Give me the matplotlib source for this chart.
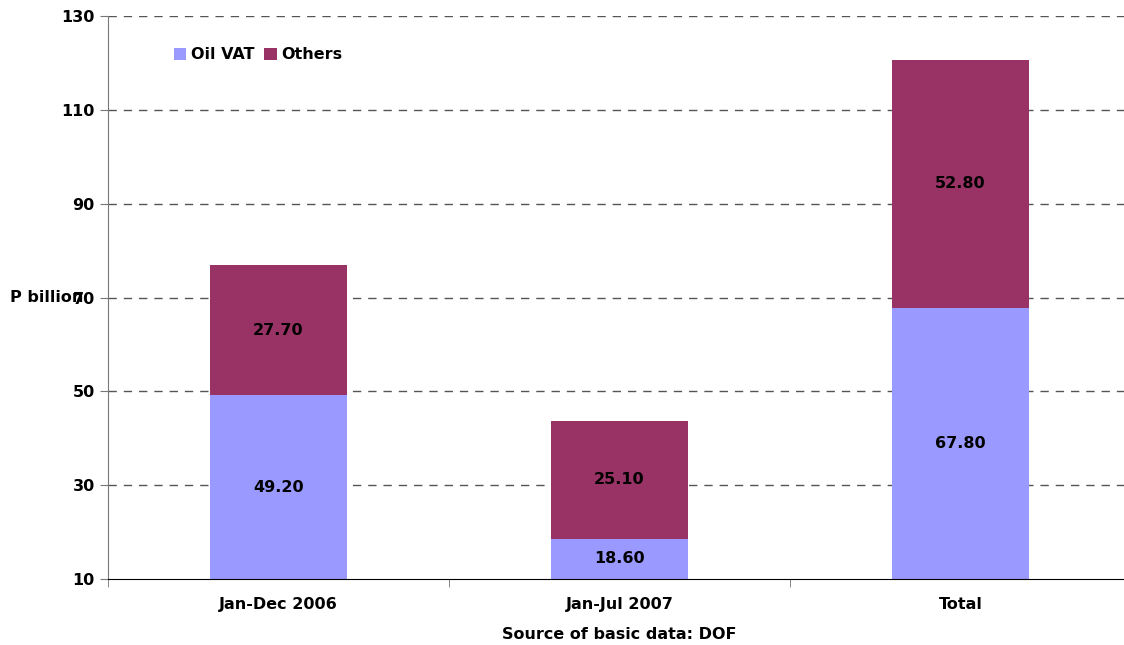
import matplotlib.pyplot as plt
import numpy as np

categories = ["Jan-Dec 2006", "Jan-Jul 2007", "Total"]
oil_vat = [49.20, 18.60, 67.80]
others = [27.70, 25.10, 52.80]
yticks = [10, 30, 50, 70, 90, 110, 130]

fs = 11.5
fig = plt.figure(figsize=(11.24, 6.45), dpi=100)
ax = fig.add_axes([108 / 1124, 66 / 645, 1023 / 1124, 563 / 645])

x = np.arange(len(categories))
ax.bar(x, oil_vat, width=0.4, color="#9999FF", label="Oil VAT", zorder=2)
ax.bar(x, others, width=0.4, bottom=oil_vat, color="#993366", label="Others", zorder=2)

# labels centred on the visible part of each segment (axis starts at 10)
for i in range(len(categories)):
    ax.text(x[i], (10 + oil_vat[i]) / 2, f"{oil_vat[i]:.2f}",
            ha="center", va="center", fontsize=fs, fontweight="bold")
    ax.text(x[i], oil_vat[i] + others[i] / 2, f"{others[i]:.2f}",
            ha="center", va="center", fontsize=fs, fontweight="bold")

ax.set_xlim(-0.5, 2.5)
ax.set_ylim(10, 130)
ax.set_yticks(yticks)
ax.set_yticklabels([str(t) for t in yticks], fontsize=fs, fontweight="bold")
ax.set_xticks(x)
ax.set_xticklabels(categories, fontsize=fs, fontweight="bold")
ax.tick_params(axis="x", length=0, pad=13)
ax.set_xticks([-0.5, 0.5, 1.5, 2.5], minor=True)
ax.tick_params(axis="x", which="minor", length=6, color="#777777")
ax.tick_params(axis="y", length=6, color="#777777")
for t in yticks[1:]:
    ax.axhline(t, color="#555555", lw=1, ls=(0, (6, 5)), zorder=1)

ax.spines["top"].set_visible(False)
ax.spines["right"].set_visible(False)
ax.spines["left"].set_color("#777777")
ax.spines["bottom"].set_color("black")

ax.set_xlabel("Source of basic data: DOF", fontsize=fs, fontweight="bold", labelpad=11)
fig.text(10 / 1124, 1 - 297 / 645, "P billion", fontsize=fs, fontweight="bold",
         ha="left", va="center")

ax.legend(loc="upper left", bbox_to_anchor=(0.05, 0.97), ncol=2, frameon=False,
          prop={"size": fs, "weight": "bold"}, handlelength=0.8, handleheight=0.8,
          handletextpad=0.3, columnspacing=0.6)

fig.savefig("out.png", dpi=100)
